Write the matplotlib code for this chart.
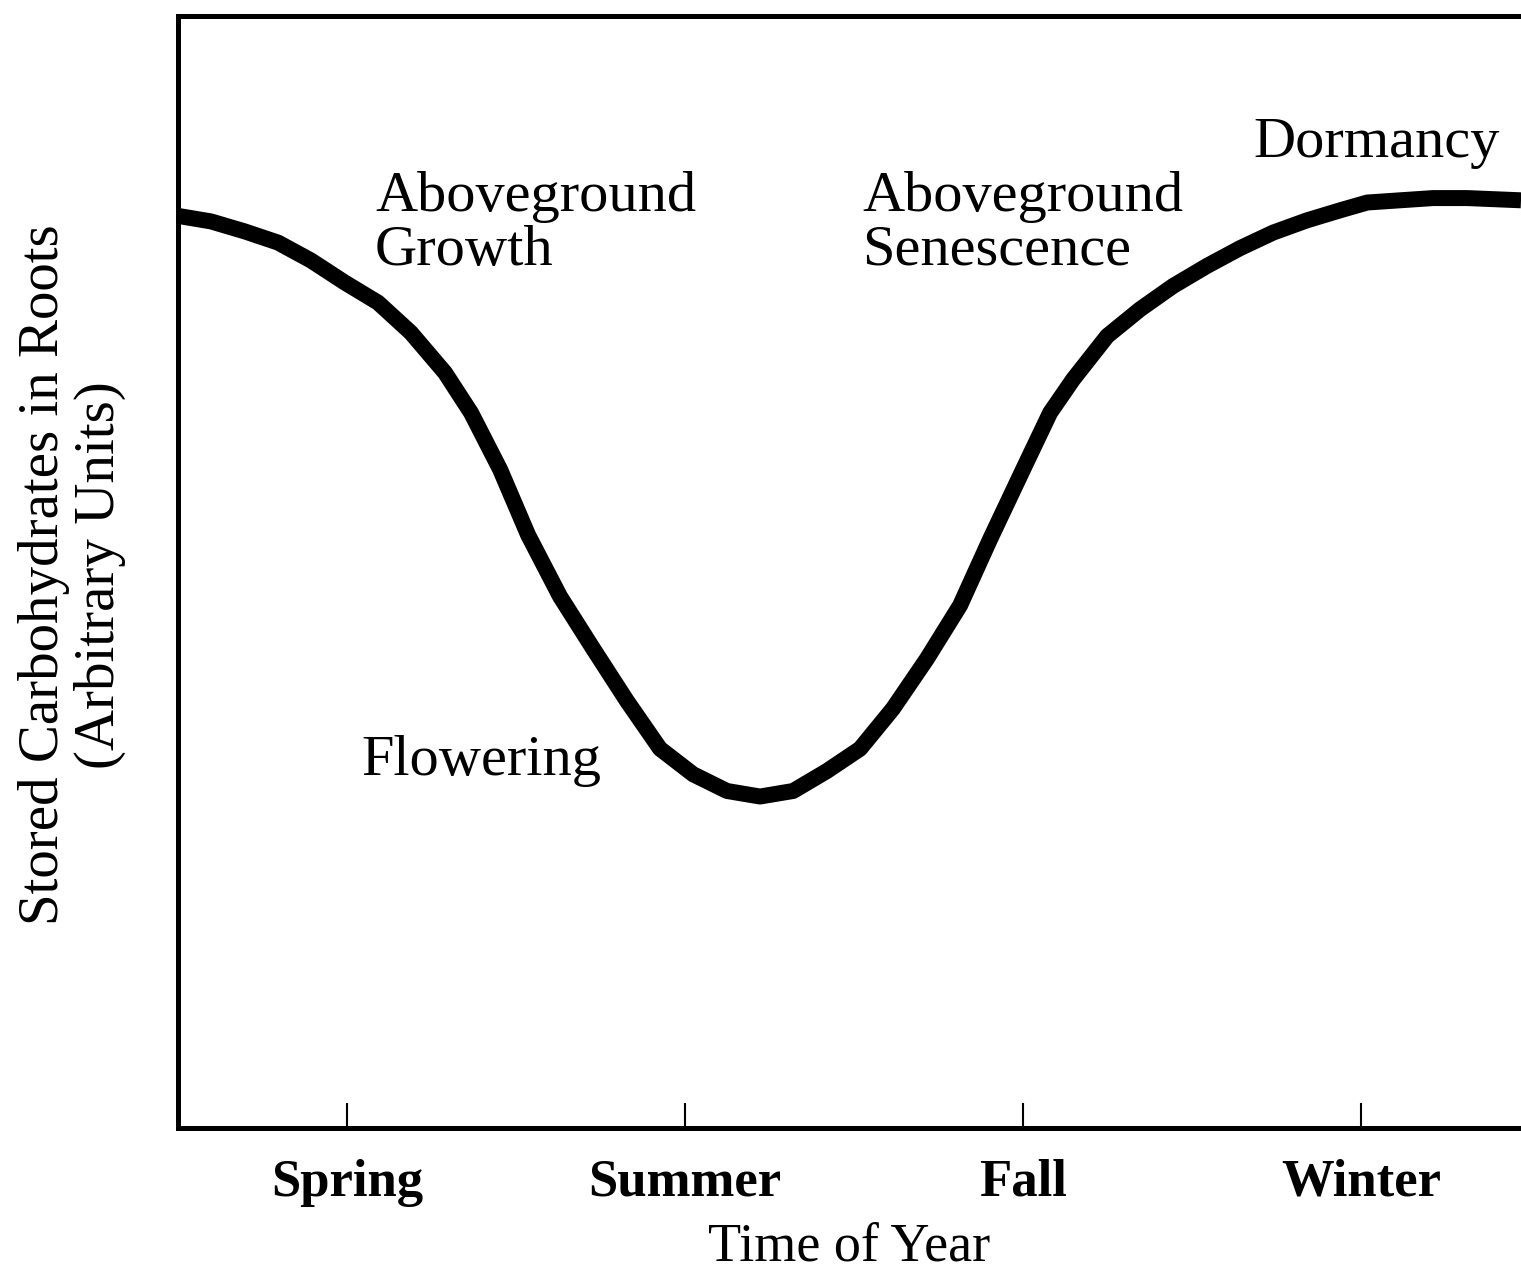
import matplotlib.pyplot as plt

# season position (1 = Spring, 2 = Summer, 3 = Fall, 4 = Winter)
season_x = [0.500, 0.598, 0.698, 0.796, 0.893, 0.994, 1.092, 1.189, 1.290, 1.367,
            1.453, 1.536, 1.630, 1.728, 1.828, 1.926, 2.024, 2.124, 2.222, 2.320,
            2.420, 2.518, 2.615, 2.716, 2.814, 2.902, 3.000, 3.080, 3.148, 3.249,
            3.346, 3.444, 3.544, 3.642, 3.740, 3.840, 3.938, 4.018, 4.115, 4.213,
            4.314, 4.473]
# stored carbohydrates (arbitrary units)
carbs = [8.20, 8.15, 8.06, 7.96, 7.80, 7.60, 7.42, 7.15, 6.79, 6.43,
         5.92, 5.33, 4.78, 4.31, 3.84, 3.41, 3.18, 3.03, 2.98, 3.03,
         3.21, 3.41, 3.77, 4.22, 4.70, 5.29, 5.92, 6.43, 6.73, 7.12,
         7.36, 7.57, 7.75, 7.91, 8.05, 8.16, 8.25, 8.32, 8.34, 8.36,
         8.36, 8.34]

seasons = ["Spring", "Summer", "Fall", "Winter"]
season_ticks = [1, 2, 3, 4]

stage_labels = ["Aboveground\nGrowth", "Aboveground\nSenescence", "Dormancy", "Flowering"]
stage_x = [1.083, 2.524, 3.68, 1.044]
stage_y = [8.60, 8.60, 9.09, 3.30]

plt.rcParams['font.family'] = ['Liberation Serif', 'DejaVu Serif']

fig = plt.figure(figsize=(15.21, 12.83), dpi=100)
ax = fig.add_axes([0.117, 0.1208, 0.883, 0.867])

ax.plot(season_x, carbs, color="black", linewidth=11.5,
        solid_joinstyle="round", solid_capstyle="butt")

for txt, x, y in zip(stage_labels, stage_x, stage_y):
    va = "center" if txt == "Flowering" else "top"
    ax.text(x, y, txt, fontsize=42, ha="left", va=va, linespacing=1.04)

ax.set_xlim(0.5, 4.473)
ax.set_ylim(0, 10)
ax.set_xticks(season_ticks)
ax.set_xticklabels(seasons, fontsize=38, fontweight="bold")
ax.set_yticks([])
ax.tick_params(axis="x", direction="in", length=18, width=1.5, pad=22)

for side in ["left", "top", "bottom"]:
    ax.spines[side].set_linewidth(3.6)
ax.spines["right"].set_visible(False)

ax.set_xlabel("Time of Year", fontsize=39, labelpad=11)
fig.text(72 / 1521, 1 - 575 / 1283, "Stored Carbohydrates in Roots\n(Arbitrary Units)",
         rotation=90, fontsize=41, ha="center", va="center", linespacing=1.08)

fig.savefig("out.png", dpi=100)
